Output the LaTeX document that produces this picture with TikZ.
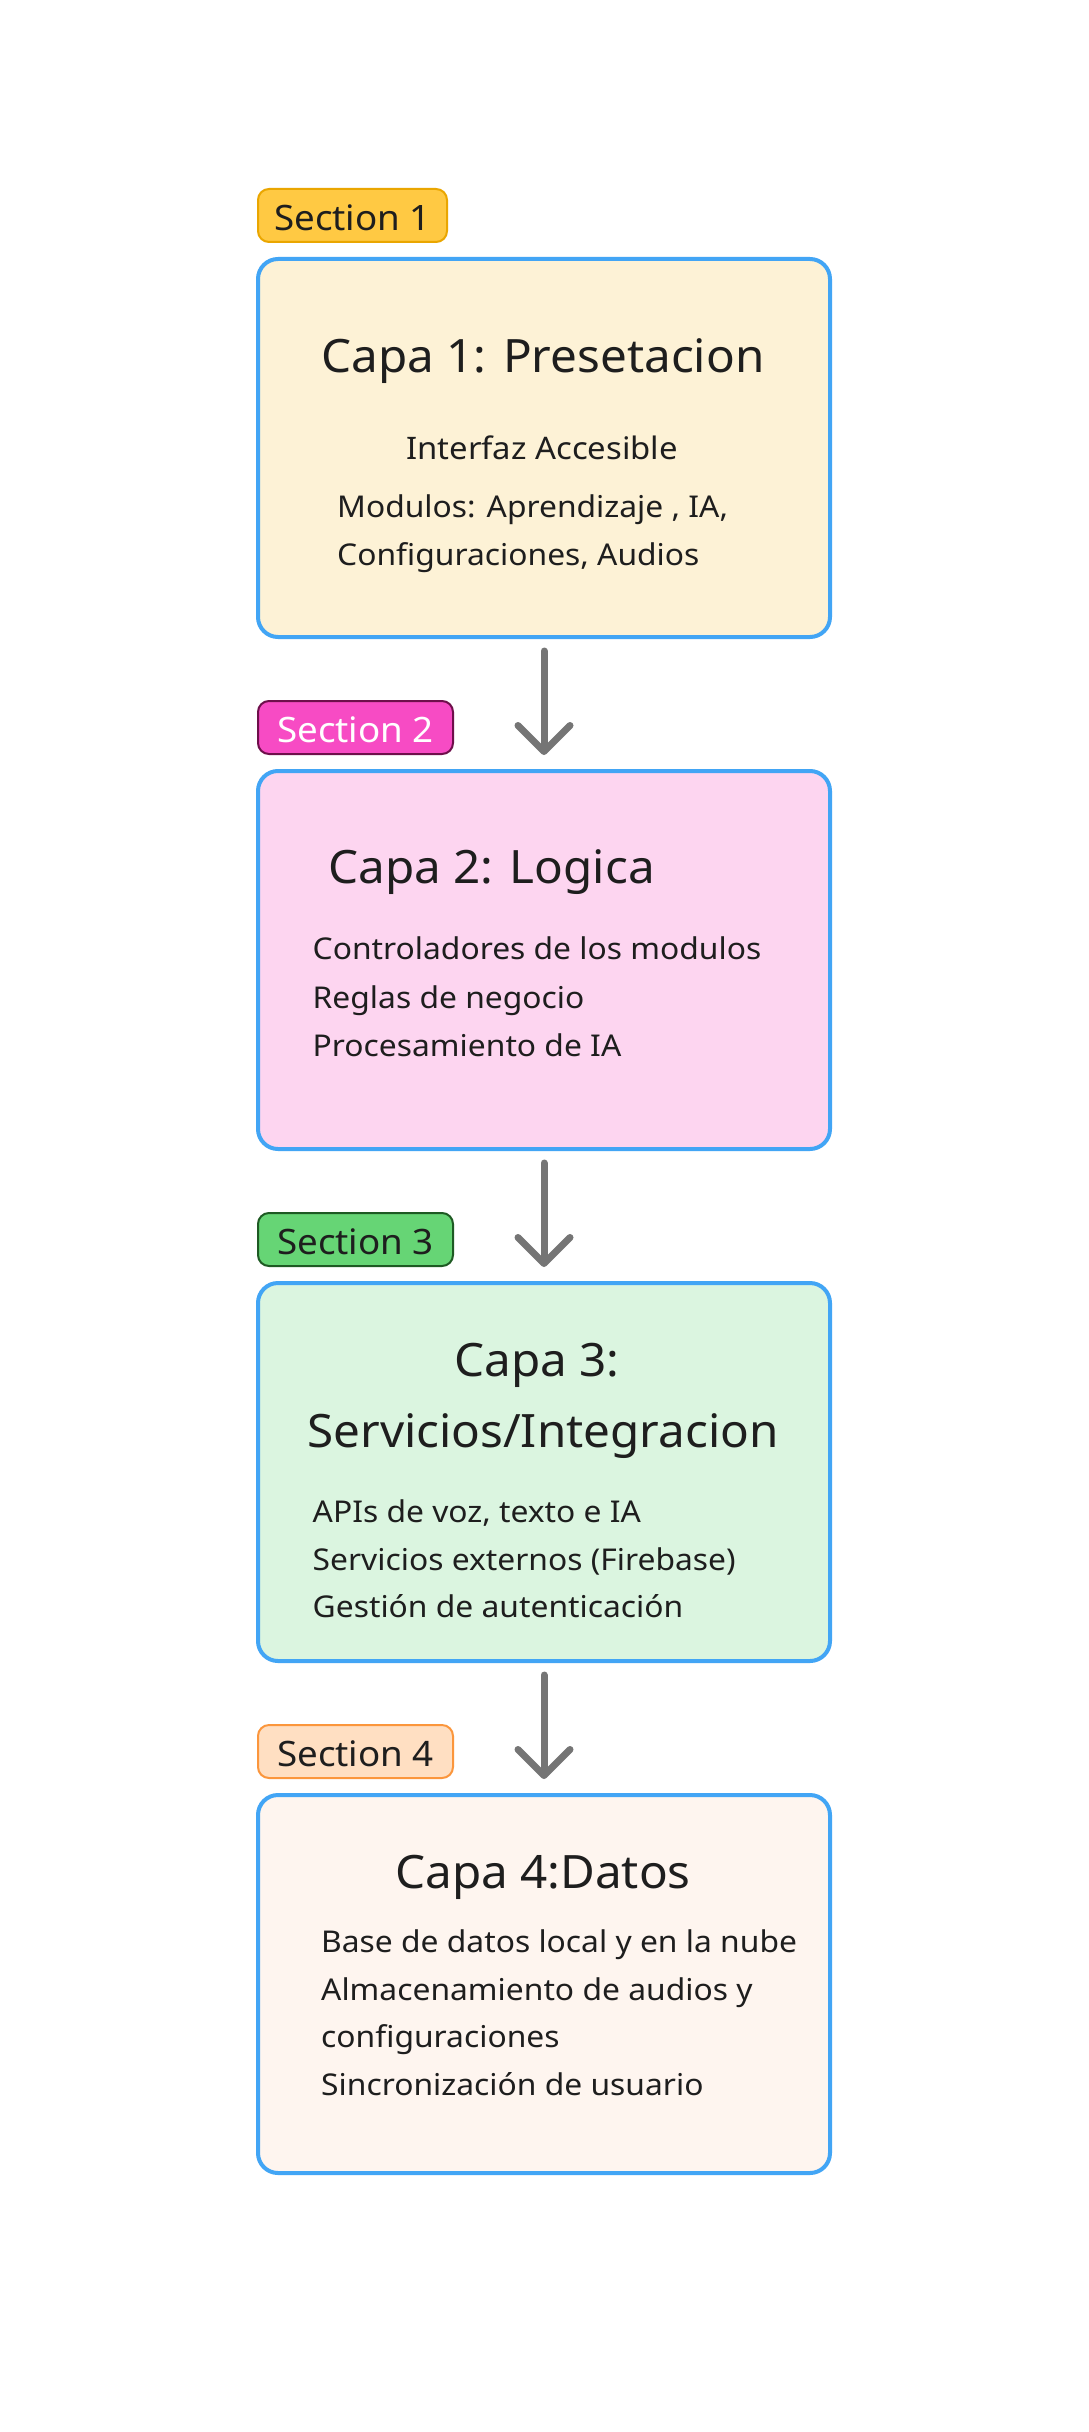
\documentclass[tikz,border=0pt]{standalone}
\usepackage{fontspec}
\setmainfont{Noto Sans}[FakeStretch=1.06]
\newfontfamily\titlefont{Noto Sans}[FakeStretch=1.035]
\newfontfamily\secfont{Noto Sans}[FakeStretch=1.05]
\usetikzlibrary{arrows.meta}
\definecolor{bordblue}{RGB}{66,165,245}
\definecolor{fillA}{RGB}{253,242,214}
\definecolor{fillB}{RGB}{253,213,240}
\definecolor{fillC}{RGB}{219,245,224}
\definecolor{fillD}{RGB}{254,245,239}
\definecolor{badgeAf}{RGB}{255,201,67}
\definecolor{badgeAd}{RGB}{234,166,0}
\definecolor{badgeBf}{RGB}{247,75,196}
\definecolor{badgeBd}{RGB}{110,15,75}
\definecolor{badgeCf}{RGB}{102,213,117}
\definecolor{badgeCd}{RGB}{30,90,35}
\definecolor{badgeDf}{RGB}{255,223,194}
\definecolor{badgeDd}{RGB}{251,150,60}
\definecolor{ink}{RGB}{30,30,30}
\definecolor{arrowgray}{RGB}{117,117,117}
\begin{document}
\begin{tikzpicture}[x=1pt,y=-1pt,
  layerbox/.style={draw=bordblue, line width=4pt, rounded corners=20pt, minimum width=572pt, minimum height=378pt, inner sep=0pt, outer sep=0pt},
  badge/.style={rounded corners=11pt, line width=2pt, minimum height=53pt, inner sep=0pt, outer sep=0pt, anchor=north west, font=\secfont\fontsize{35}{40}\selectfont, text height=30pt, text depth=0pt},
  ttl/.style={font=\titlefont\fontsize{46}{55}\selectfont, text=ink, inner sep=0pt, anchor=base},
  body/.style={font=\fontsize{30}{36}\selectfont, text=ink, inner sep=0pt, anchor=base west},
  flow/.style={draw=arrowgray, line width=7pt, line cap=round, -{Straight Barb[length=26pt,width=52pt,round]}, shorten <=14pt, shorten >=16pt}
]
\useasboundingbox[fill=white] (0,0) rectangle (1088,2432);

% boxes
\node[layerbox, fill=fillA] (b1) at (544,448) {};
\node[layerbox, fill=fillB] (b2) at (544,960) {};
\node[layerbox, fill=fillC] (b3) at (544,1472) {};
\node[layerbox, fill=fillD] (b4) at (544,1984) {};

% badges
\node[badge, draw=badgeAd, fill=badgeAf, text=ink, minimum width=189pt] (s1) at (258,189) {Section 1};
\node[badge, draw=badgeBd, fill=badgeBf, text=white, minimum width=195pt] (s2) at (258,701) {Section 2};
\node[badge, draw=badgeCd, fill=badgeCf, text=ink, minimum width=195pt] (s3) at (258,1213) {Section 3};
\node[badge, draw=badgeDd, fill=badgeDf, text=ink, minimum width=195pt] (s4) at (258,1725) {Section 4};

% box 1 text
\node[ttl] (t1) at (543,372) {Capa 1: Presetacion};
\node[body, anchor=base, font=\fontsize{31}{36}\selectfont] (i1) at (542,459) {Interfaz Accesible};
\node[body] (m1) at (337,517) {Modulos: Aprendizaje , IA,};
\node[body] (c1) at (337,565) {Configuraciones, Audios};

% box 2 text
\node[ttl, anchor=base west] (t2) at (328,883) {Capa 2: Logica};
\node[body] (l21) at (312.5,959) {Controladores de los modulos};
\node[body] (l22) at (312.5,1008) {Reglas de negocio};
\node[body] (l23) at (312.5,1056) {Procesamiento de IA};

% box 3 text
\node[ttl] (t3a) at (537,1376) {Capa 3:};
\node[ttl] (t3b) at (543,1447) {Servicios/Integracion};
\node[body] (l31) at (312.5,1522) {APIs de voz, texto e IA};
\node[body] (l32) at (312.5,1570) {Servicios externos (Firebase)};
\node[body] (l33) at (312.5,1617) {Gestión de autenticación};

% box 4 text
\node[ttl] (t4) at (543,1888) {Capa 4:Datos};
\node[body] (l41) at (321,1952) {Base de datos local y en la nube};
\node[body] (l42) at (321,2000) {Almacenamiento de audios y};
\node[body] (l43) at (321,2047) {configuraciones};
\node[body] (l44) at (321,2095) {Sincronización de usuario};

% arrows
\draw[flow] (b1.south) -- (b2.north);
\draw[flow] (b2.south) -- (b3.north);
\draw[flow] (b3.south) -- (b4.north);
\end{tikzpicture}
\end{document}
